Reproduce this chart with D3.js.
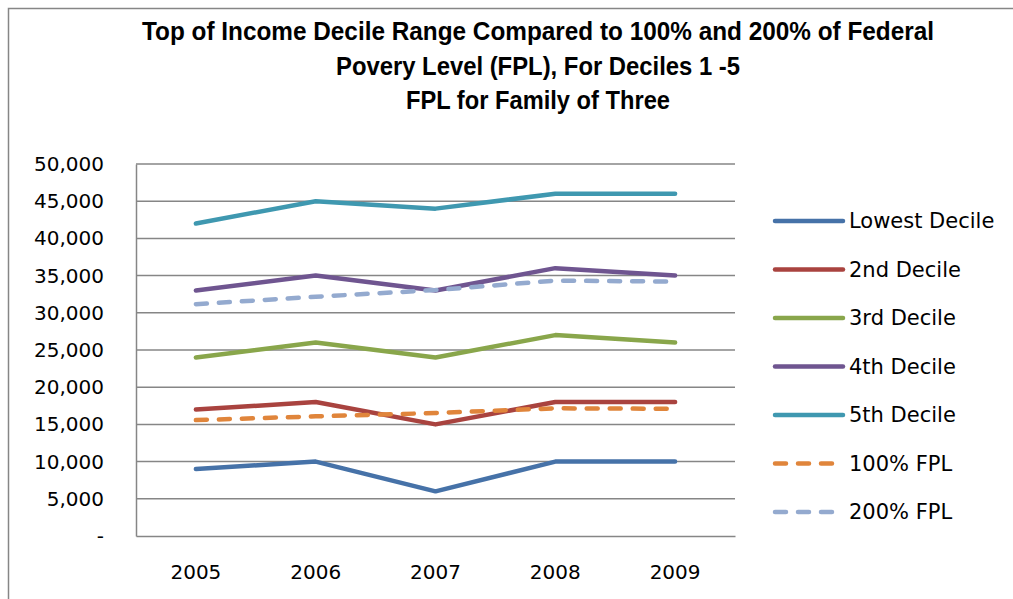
<!DOCTYPE html>
<html>
<head>
<meta charset="utf-8">
<script src="https://cdn.jsdelivr.net/npm/d3@7"></script>
<style>
  body { margin: 0; background: #fff; }
  svg { display: block; }
</style>
</head>
<body>
<div id="chart"></div>
<script>
// data
var years = ["2005", "2006", "2007", "2008", "2009"]
var lowest  = [9000, 10000, 6000, 10000, 10000]
var second  = [17000, 18000, 15000, 18000, 18000]
var third   = [24000, 26000, 24000, 27000, 26000]
var fourth  = [33000, 35000, 33000, 36000, 35000]
var fifth   = [42000, 45000, 44000, 46000, 46000]
var fpl100  = [15577, 16079, 16530, 17163, 17098]
var fpl200  = [31154, 32158, 33060, 34326, 34196]
var yTicks  = [0, 5000, 10000, 15000, 20000, 25000, 30000, 35000, 40000, 45000, 50000]
var titleLines = ["Top of Income Decile Range Compared to 100% and 200% of Federal",
                  "Povery Level (FPL), For Deciles 1 -5",
                  "FPL for Family of Three"]
// widths the title lines take in the picture (condensed font)
var titleWidths = [792, 404, 264]

var series = [
  {name: "Lowest Decile", values: lowest, colour: "#4672A8", dashed: false},
  {name: "2nd Decile",    values: second, colour: "#A9433F", dashed: false},
  {name: "3rd Decile",    values: third,  colour: "#89A64B", dashed: false},
  {name: "4th Decile",    values: fourth, colour: "#6F5590", dashed: false},
  {name: "5th Decile",    values: fifth,  colour: "#3F98B0", dashed: false},
  {name: "100% FPL",      values: fpl100, colour: "#E0853B", dashed: true},
  {name: "200% FPL",      values: fpl200, colour: "#94AACF", dashed: true}
]

var w = 1013, h = 599
var plot = {left: 136, right: 735, top: 164, bottom: 536}

var svg = d3.select("#chart").append("svg")
  .attr("width", w)
  .attr("height", h)

// outer chart frame (only top and left edges visible)
svg.append("path")
  .attr("d", "M8.5," + h + " V8.5 H" + w)
  .attr("fill", "none")
  .attr("stroke", "#868686")
  .attr("stroke-width", 1.5)

// title
svg.append("g").selectAll("text")
  .data(titleLines)
  .enter().append("text")
  .attr("x", 538)
  .attr("y", function(d, i) { return 40 + i * 34.5 })
  .attr("text-anchor", "middle")
  .attr("textLength", function(d, i) { return titleWidths[i] })
  .attr("lengthAdjust", "spacingAndGlyphs")
  .style("font-family", "'Liberation Sans Narrow', 'Liberation Sans', sans-serif")
  .style("font-weight", "bold")
  .style("font-size", "26px")
  .attr("fill", "#000")
  .text(function(d) { return d })

// scales
var x = d3.scaleBand()
  .domain(years)
  .range([plot.left, plot.right])

var y = d3.scaleLinear()
  .domain([0, 50000])
  .range([plot.bottom, plot.top])

// horizontal gridlines
svg.append("g").selectAll("line")
  .data(yTicks.slice(1))
  .enter().append("line")
  .attr("x1", plot.left)
  .attr("x2", plot.right)
  .attr("y1", function(d) { return y(d) })
  .attr("y2", function(d) { return y(d) })
  .attr("stroke", "#868686")
  .attr("stroke-width", 1.5)

// y axis
var yAxis = d3.axisLeft(y)
  .tickValues(yTicks)
  .tickSize(0)
  .tickPadding(32)
  .tickFormat(function(d) { return d === 0 ? "-" : d3.format(",")(d) })

var yG = svg.append("g")
  .attr("transform", "translate(" + plot.left + ",0)")
  .call(yAxis)
yG.select(".domain").attr("stroke", "#868686").attr("stroke-width", 1.5)
yG.selectAll("text")
  .style("font-family", "'DejaVu Sans', sans-serif")
  .style("font-size", "20px")
  .attr("fill", "#000")

// x axis
var xAxis = d3.axisBottom(x)
  .tickSize(0)
  .tickPadding(29)

var xG = svg.append("g")
  .attr("transform", "translate(0," + plot.bottom + ")")
  .call(xAxis)
xG.select(".domain").attr("stroke", "#868686").attr("stroke-width", 1.5)
xG.selectAll("text")
  .style("font-family", "'DejaVu Sans', sans-serif")
  .style("font-size", "20px")
  .attr("fill", "#000")

// lines
var line = d3.line()
  .x(function(d, i) { return x(years[i]) + x.bandwidth() / 2 })
  .y(function(d) { return y(d) })

svg.append("g").selectAll("path")
  .data(series)
  .enter().append("path")
  .attr("d", function(d) { return line(d.values) })
  .attr("fill", "none")
  .attr("stroke", function(d) { return d.colour })
  .attr("stroke-width", 4.5)
  .attr("stroke-linecap", "round")
  .attr("stroke-linejoin", "round")
  .attr("stroke-dasharray", function(d) { return d.dashed ? "11,12" : null })

// legend
var legend = svg.append("g").selectAll("g")
  .data(series)
  .enter().append("g")
  .attr("transform", function(d, i) { return "translate(775," + (221 + i * 48.5) + ")" })

legend.append("line")
  .attr("x1", 0)
  .attr("x2", function(d) { return d.dashed ? 61 : 68 })
  .attr("stroke", function(d) { return d.colour })
  .attr("stroke-width", 4.5)
  .attr("stroke-linecap", "round")
  .attr("stroke-dasharray", function(d) { return d.dashed ? "11,12" : null })

legend.append("text")
  .attr("x", 74)
  .attr("dy", "0.35em")
  .style("font-family", "'DejaVu Sans', sans-serif")
  .style("font-size", "21px")
  .attr("fill", "#000")
  .text(function(d) { return d.name })
</script>
</body>
</html>
